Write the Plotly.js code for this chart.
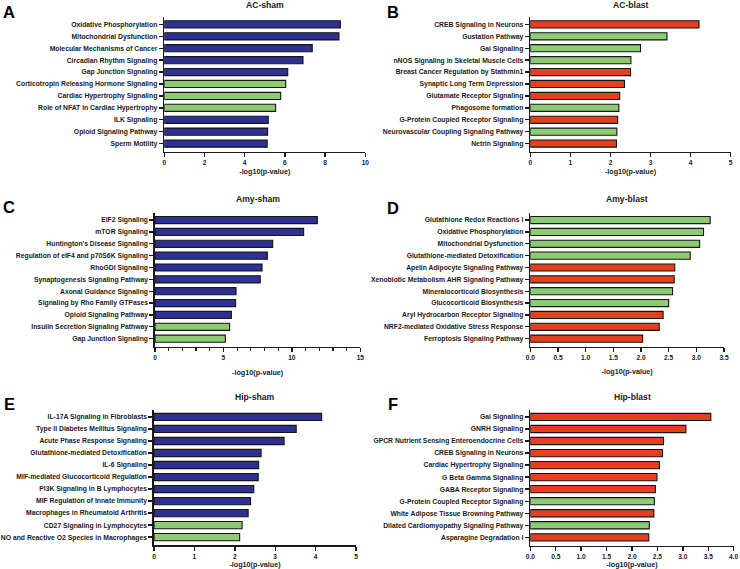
<!DOCTYPE html>
<html>
<head>
<meta charset="utf-8">
<script src="https://cdn.plot.ly/plotly-3.0.1.min.js"></script>
<style>html,body{margin:0;padding:0;background:#fff;}#chart{width:740px;height:569px;}</style>
</head>
<body>
<div id="chart"></div>
<script>
// ---- Data ----
const TITLE_A = "AC-sham";
const CAT_A = ["Oxidative Phosphorylation","Mitochondrial Dysfunction","Molecular Mechanisms of Cancer","Circadian Rhythm Signaling","Gap Junction Signaling","Corticotropin Releasing Hormone Signaling","Cardiac Hypertrophy Signaling","Role of NFAT in Cardiac Hypertrophy","ILK Signaling","Opioid Signaling Pathway","Sperm Motility"];
const VAL_A = [8.76, 8.69, 7.36, 6.90, 6.14, 6.04, 5.79, 5.54, 5.17, 5.14, 5.12];
const GRP_A = ["sham","sham","sham","sham","sham","down","down","down","sham","sham","sham"];

const TITLE_B = "AC-blast";
const CAT_B = ["CREB Signaling in Neurons","Gustation Pathway","Gai Signaling","nNOS Signaling in Skeletal Muscle Cells","Breast Cancer Regulation by Stathmin1","Synaptic Long Term Depression","Glutamate Receptor Signaling","Phagosome formation","G-Protein Coupled Receptor Signaling","Neurovascular Coupling Signaling Pathway","Netrin Signaling"];
const VAL_B = [4.21, 3.41, 2.75, 2.51, 2.50, 2.35, 2.23, 2.21, 2.18, 2.16, 2.15];
const GRP_B = ["up","down","down","down","up","up","up","down","up","down","up"];

const TITLE_C = "Amy-sham";
const CAT_C = ["EIF2 Signaling","mTOR Signaling","Huntington's Disease Signaling","Regulation of eIF4 and p70S6K Signaling","RhoGDI Signaling","Synaptogenesis Signaling Pathway","Axonal Guidance Signaling","Signaling by Rho Family GTPases","Opioid Signaling Pathway","Insulin Secretion Signaling Pathway","Gap Junction Signaling"];
const VAL_C = [11.86, 10.86, 8.60, 8.21, 7.82, 7.69, 5.92, 5.89, 5.58, 5.45, 5.14];
const GRP_C = ["sham","sham","sham","sham","sham","sham","sham","sham","sham","down","down"];

const TITLE_D = "Amy-blast";
const CAT_D = ["Glutathione Redox Reactions I","Oxidative Phosphorylation","Mitochondrial Dysfunction","Glutathione-mediated Detoxification","Apelin Adipocyte Signaling Pathway","Xenobiotic Metabolism AHR Signaling Pathway","Mineralocorticoid Biosynthesis","Glucocorticoid Biosynthesis","Aryl Hydrocarbon Receptor Signaling","NRF2-mediated Oxidative Stress Response","Ferroptosis Signaling Pathway"];
const VAL_D = [3.25, 3.13, 3.06, 2.89, 2.61, 2.60, 2.57, 2.50, 2.40, 2.33, 2.03];
const GRP_D = ["down","down","down","down","up","up","down","down","up","up","up"];

const TITLE_E = "Hip-sham";
const CAT_E = ["IL-17A Signaling in Fibroblasts","Type II Diabetes Mellitus Signaling","Acute Phase Response Signaling","Glutathione-mediated Detoxification","IL-6 Signaling","MIF-mediated Glucocorticoid Regulation","PI3K Signaling in B Lymphocytes","MIF Regulation of Innate Immunity","Macrophages in Rheumatoid Arthritis","CD27 Signaling in Lymphocytes","NO and Reactive O2 Species in Macrophages"];
const VAL_E = [4.15, 3.52, 3.22, 2.65, 2.59, 2.58, 2.47, 2.39, 2.33, 2.18, 2.12];
const GRP_E = ["sham","sham","sham","sham","sham","sham","sham","sham","sham","down","down"];

const TITLE_F = "Hip-blast";
const CAT_F = ["Gai Signaling","GNRH Signaling","GPCR Nutrient Sensing Enteroendocrine Cells","CREB Signaling in Neurons","Cardiac Hypertrophy Signaling","G Beta Gamma Signaling","GABA Receptor Signaling","G-Protein Coupled Receptor Signaling","White Adipose Tissue Browning Pathway","Dilated Cardiomyopathy Signaling Pathway","Asparagine Degradation I"];
const VAL_F = [3.55, 3.06, 2.62, 2.60, 2.54, 2.49, 2.46, 2.44, 2.43, 2.34, 2.33];
const GRP_F = ["up","up","up","up","up","up","up","down","up","down","up"];

const X_MAX = [10, 5, 15, 3.5, 5, 4];
const X_DTICK = [2, 1, 5, 0.5, 1, 0.5];
const X_TITLE = "-log10(p-value)";
const LETTERS = ["A","B","C","D","E","F"];

// ---- Styling / layout ----
const COLORS = {sham: "#2E3192", down: "#8CCB72", up: "#E2411F"};
const W = 740, H = 569;
const FONT = "Liberation Sans, Arial, Helvetica, sans-serif";

const panels = [
  {t: TITLE_A, c: CAT_A, v: VAL_A, g: GRP_A, px: [164.3, 365.3], py: [17, 151.7], letter: [9, 11.5], titleY: 4.8, standoff: 3.5},
  {t: TITLE_B, c: CAT_B, v: VAL_B, g: GRP_B, px: [530.3, 730.7], py: [17, 151.7], letter: [393, 11.5], titleY: 4.8, standoff: 3.5},
  {t: TITLE_C, c: CAT_C, v: VAL_C, g: GRP_C, px: [155, 360.3], py: [212.7, 346.7], letter: [9, 207], titleY: 199.2, standoff: 10},
  {t: TITLE_D, c: CAT_D, v: VAL_D, g: GRP_D, px: [530.3, 724], py: [212.7, 346.7], letter: [393, 207.5], titleY: 199.2, standoff: 9},
  {t: TITLE_E, c: CAT_E, v: VAL_E, g: GRP_E, px: [154, 356], py: [409.5, 545.3], letter: [9, 404], titleY: 397, standoff: 1},
  {t: TITLE_F, c: CAT_F, v: VAL_F, g: GRP_F, px: [530.3, 733.7], py: [409.5, 545.5], letter: [393, 403.5], titleY: 397, standoff: 1}
];

const traces = [];
const layout = {
  width: W, height: H,
  margin: {l: 0, r: 0, t: 0, b: 0, pad: 0},
  paper_bgcolor: "#ffffff", plot_bgcolor: "rgba(0,0,0,0)",
  showlegend: false,
  font: {family: FONT, color: "#1a1a1a", weight: "bold"},
  annotations: []
};

panels.forEach((p, i) => {
  const n = i + 1;
  const xa = n === 1 ? "xaxis" : "xaxis" + n;
  const ya = n === 1 ? "yaxis" : "yaxis" + n;
  traces.push({
    type: "bar", orientation: "h",
    x: p.v, y: p.c,
    xaxis: "x" + (n === 1 ? "" : n), yaxis: "y" + (n === 1 ? "" : n),
    width: 0.6,
    marker: {color: p.g.map(k => COLORS[k]), line: {color: "#151515", width: 1.1}},
    hoverinfo: "x+y"
  });
  const dx0 = p.px[0] / W, dx1 = p.px[1] / W;
  const dy0 = 1 - p.py[1] / H, dy1 = 1 - p.py[0] / H;
  layout[xa] = {
    domain: [dx0, dx1], anchor: "y" + (n === 1 ? "" : n),
    range: [0, X_MAX[i]], dtick: X_DTICK[i], tick0: 0,
    tickformat: X_DTICK[i] < 1 ? ".1f" : "d",
    showline: true, linecolor: "#1a1a1a", linewidth: 1.6,
    ticks: "outside", ticklen: 4, tickwidth: 1.4, tickcolor: "#1a1a1a",
    showgrid: false, zeroline: false, automargin: false,
    tickfont: {size: 6.6, family: FONT, weight: "bold", color: "#1a1a1a"},
    title: {text: X_TITLE, font: {size: 7.2, family: FONT, weight: "bold", color: "#1a1a1a"}, standoff: p.standoff},
    fixedrange: true
  };
  if (i === 2) {
    layout[xa].minor = {dtick: 1, ticks: "outside", ticklen: 3, tickwidth: 1.2, tickcolor: "#1a1a1a", showgrid: false};
  }
  layout[ya] = {
    domain: [dy0, dy1], anchor: "x" + (n === 1 ? "" : n),
    type: "category", categoryorder: "array", categoryarray: p.c,
    range: [10.68, -0.62],
    showline: true, linecolor: "#1a1a1a", linewidth: 1.6,
    ticks: "outside", ticklen: 4, tickwidth: 1.4, tickcolor: "#1a1a1a",
    showgrid: false, zeroline: false, automargin: false,
    tickfont: {size: 6.8, family: FONT, weight: "bold", color: "#1a1a1a"},
    fixedrange: true
  };
  // subplot title
  layout.annotations.push({
    text: p.t, xref: "paper", yref: "paper",
    x: (dx0 + dx1) / 2, y: 1 - p.titleY / H, xanchor: "center", yanchor: "middle",
    showarrow: false, font: {size: 8.6, family: FONT, weight: "bold", color: "#1a1a1a"}
  });
  // panel letter
  layout.annotations.push({
    text: LETTERS[i], xref: "paper", yref: "paper",
    x: p.letter[0] / W, y: 1 - p.letter[1] / H, xanchor: "center", yanchor: "middle",
    showarrow: false, font: {size: 16.5, family: FONT, weight: "bold", color: "#000"}
  });
});

Plotly.newPlot("chart", traces, layout, {displayModeBar: false, staticPlot: true});
</script>
</body>
</html>
